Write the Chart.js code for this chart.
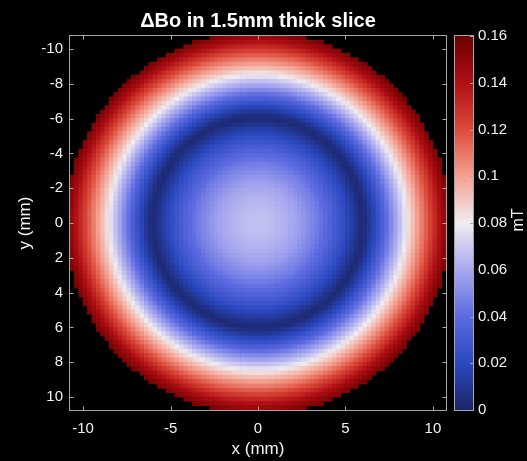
<!DOCTYPE html>
<html>
<head>
<meta charset="utf-8">
<script src="https://cdn.jsdelivr.net/npm/chart.js@4.4.0/dist/chart.umd.min.js"></script>
<style>
  html, body { margin: 0; padding: 0; background: #000; }
</style>
</head>
<body>
<canvas id="map" width="527" height="461"></canvas>
<script>
// radial profile of the field offset across the slice, sampled every 0.25 mm
const radiusMm = [
  0, 0.25, 0.5, 0.75, 1, 1.25, 1.5, 1.75, 2, 2.25, 2.5, 2.75, 3, 3.25, 3.5, 3.75,
  4, 4.25, 4.5, 4.75, 5, 5.25, 5.5, 5.75, 6, 6.25, 6.5, 6.75, 7, 7.25, 7.5, 7.75,
  8, 8.25, 8.5, 8.75, 9, 9.25, 9.5, 9.75, 10, 10.25, 10.5, 10.75, 11
]
const deltaBo = [
  0.067, 0.067, 0.067, 0.066, 0.065, 0.064, 0.063, 0.061, 0.060, 0.058, 0.056, 0.053, 0.050, 0.048, 0.045, 0.041,
  0.038, 0.034, 0.030, 0.026, 0.022, 0.017, 0.012, 0.007, 0.003, 0.007, 0.014, 0.021, 0.029, 0.037, 0.045, 0.054,
  0.062, 0.071, 0.080, 0.088, 0.096, 0.104, 0.111, 0.119, 0.127, 0.135, 0.143, 0.150, 0.156
]
const xTickLabels = [-10, -5, 0, 5, 10]
const yTickLabels = [-10, -8, -6, -4, -2, 0, 2, 4, 6, 8, 10]
const cbTickLabels = [0, 0.02, 0.04, 0.06, 0.08, 0.1, 0.12, 0.14, 0.16]

const gridStep = 0.25      // mm per pixel of the field map
const halfWidth = 10.75    // axis limits, mm
const sliceRadius = 11     // mm, outside is no data
const cbMin = 0, cbMax = 0.16

const FONT = 'Helvetica, "Liberation Sans", Arial, sans-serif'
const textColor = '#f2f2f2'
const frameColor = '#a6a6a6'

// blue-white-red colour map
const cmap = [
  [0.00, [27, 36, 102]],
  [0.02, [42, 72, 192]],
  [0.04, [92, 106, 224]],
  [0.06, [168, 168, 240]],
  [0.08, [240, 236, 240]],
  [0.10, [245, 160, 144]],
  [0.12, [220, 74, 58]],
  [0.14, [176, 15, 20]],
  [0.16, [107, 0, 0]]
]
function colorFor(v) {
  const t = Math.min(cbMax, Math.max(cbMin, v))
  for (let i = 1; i < cmap.length; i++) {
    if (t <= cmap[i][0]) {
      const [t0, c0] = cmap[i - 1], [t1, c1] = cmap[i]
      const f = (t - t0) / (t1 - t0)
      const c = c0.map((a, k) => Math.round(a + (c1[k] - a) * f))
      return `rgb(${c[0]},${c[1]},${c[2]})`
    }
  }
  const c = cmap[cmap.length - 1][1]
  return `rgb(${c[0]},${c[1]},${c[2]})`
}

// value of the profile at radius r, between its two neighbouring samples
function profileAt(r) {
  let k = 1
  while (k < radiusMm.length - 1 && radiusMm[k] < r) k++
  const r0 = radiusMm[k - 1], r1 = radiusMm[k]
  const f = Math.min(1, Math.max(0, (r - r0) / (r1 - r0)))
  return deltaBo[k - 1] + (deltaBo[k] - deltaBo[k - 1]) * f
}

// field map cells inside the slice
const cells = []
const n = Math.round(2 * halfWidth / gridStep)
for (let i = 0; i < n; i++) {
  for (let j = 0; j < n; j++) {
    const x = -halfWidth + gridStep * (i + 0.5)
    const y = -halfWidth + gridStep * (j + 0.5)
    const r = Math.hypot(x, y)
    if (r > sliceRadius) continue
    cells.push({ x, y, v: profileAt(r) })
  }
}

// frame, inward ticks and colour bar
const decor = {
  id: 'decor',
  afterDraw(chart) {
    const { ctx, chartArea: a, scales } = chart
    ctx.save()
    ctx.strokeStyle = frameColor
    ctx.lineWidth = 1
    const L = Math.round(a.left) - 0.5, R = Math.round(a.right) + 0.5
    const T = Math.round(a.top) - 0.5, B = Math.round(a.bottom) + 0.5
    ctx.strokeRect(L, T, R - L, B - T)

    const tl = 4
    ctx.beginPath()
    xTickLabels.forEach(v => {
      const px = Math.round(scales.x.getPixelForValue(v)) + 0.5
      ctx.moveTo(px, B); ctx.lineTo(px, B - tl)
      ctx.moveTo(px, T); ctx.lineTo(px, T + tl)
    })
    yTickLabels.forEach(v => {
      const py = Math.round(scales.y.getPixelForValue(v)) + 0.5
      ctx.moveTo(L, py); ctx.lineTo(L + tl, py)
      ctx.moveTo(R, py); ctx.lineTo(R - tl, py)
    })
    ctx.stroke()

    // colour bar
    const cb = scales.cb
    const x0 = Math.round(a.right) + 9, x1 = Math.round(a.right) + 27
    const yBot = cb.getPixelForValue(cbMin), yTop = cb.getPixelForValue(cbMax)
    const grad = ctx.createLinearGradient(0, yBot, 0, yTop)
    cmap.forEach(([t, c]) => grad.addColorStop((t - cbMin) / (cbMax - cbMin), `rgb(${c[0]},${c[1]},${c[2]})`))
    ctx.fillStyle = grad
    ctx.fillRect(x0, yTop, x1 - x0, yBot - yTop)
    ctx.strokeRect(x0 - 0.5, Math.round(yTop) - 0.5, x1 - x0 + 1, Math.round(yBot - yTop) + 1)
    ctx.beginPath()
    cbTickLabels.forEach(v => {
      const py = Math.round(cb.getPixelForValue(v)) + 0.5
      ctx.moveTo(x1, py); ctx.lineTo(x1 - 3, py)
    })
    ctx.stroke()

    ctx.fillStyle = textColor
    ctx.font = `16px ${FONT}`
    ctx.textAlign = 'center'
    ctx.textBaseline = 'middle'
    ctx.translate(Math.round(a.right) + 73, (a.top + a.bottom) / 2 - 3)
    ctx.rotate(-Math.PI / 2)
    ctx.fillText('mT', 0, 0)
    ctx.restore()
  }
}

new Chart(document.getElementById('map'), {
  type: 'scatter',
  data: {
    datasets: [{
      data: cells,
      pointStyle: 'rect',
      borderWidth: 0,
      backgroundColor: ctx => colorFor(ctx.raw.v),
      pointRadius: ctx => {
        const xs = ctx.chart.scales.x
        const px = Math.abs(xs.getPixelForValue(gridStep) - xs.getPixelForValue(0))
        return (px / 2 + 0.35) * Math.SQRT2
      }
    }]
  },
  options: {
    responsive: false,
    devicePixelRatio: 1,
    animation: false,
    events: [],
    layout: { padding: 0 },
    plugins: {
      legend: { display: false },
      tooltip: { enabled: false },
      title: {
        display: true,
        text: 'ΔBo in 1.5mm thick slice',
        color: '#ffffff',
        fullSize: false,
        font: { family: FONT, size: 20, weight: 'bold', lineHeight: 1.2 },
        padding: { top: 9, bottom: 3 }
      }
    },
    scales: {
      x: {
        type: 'linear',
        position: 'bottom',
        min: -halfWidth,
        max: halfWidth,
        afterBuildTicks: s => { s.ticks = xTickLabels.map(v => ({ value: v })) },
        afterFit: s => { s.height = 51 },
        grid: { display: false, drawTicks: false },
        border: { display: false },
        ticks: {
          color: textColor, padding: 10, maxRotation: 0, autoSkip: false,
          font: { family: FONT, size: 15 },
          callback: v => String(v)
        },
        title: {
          display: true, text: 'x (mm)', color: textColor,
          font: { family: FONT, size: 17 },
          padding: { top: 0, bottom: 1 }
        }
      },
      y: {
        type: 'linear',
        position: 'left',
        reverse: true,
        min: -halfWidth,
        max: halfWidth,
        afterBuildTicks: s => { s.ticks = yTickLabels.map(v => ({ value: v })) },
        afterFit: s => { s.width = 70 },
        grid: { display: false, drawTicks: false },
        border: { display: false },
        ticks: {
          color: textColor, padding: 7, autoSkip: false,
          font: { family: FONT, size: 15 },
          callback: v => String(v)
        },
        title: {
          display: true, text: 'y (mm)', color: textColor,
          font: { family: FONT, size: 17 },
          padding: { top: 15, bottom: 0 }
        }
      },
      cb: {
        type: 'linear',
        axis: 'y',
        position: 'right',
        min: cbMin,
        max: cbMax,
        afterBuildTicks: s => { s.ticks = cbTickLabels.map(v => ({ value: v })) },
        afterFit: s => { s.width = 81 },
        // the hidden tick length keeps the labels clear of the bar
        grid: { display: false, drawTicks: true, tickLength: 30, tickColor: 'rgba(0,0,0,0)' },
        border: { display: false },
        ticks: {
          color: textColor, padding: 2, autoSkip: false,
          font: { family: FONT, size: 15 },
          callback: v => String(v)
        }
      }
    }
  },
  plugins: [decor]
})
</script>
</body>
</html>
